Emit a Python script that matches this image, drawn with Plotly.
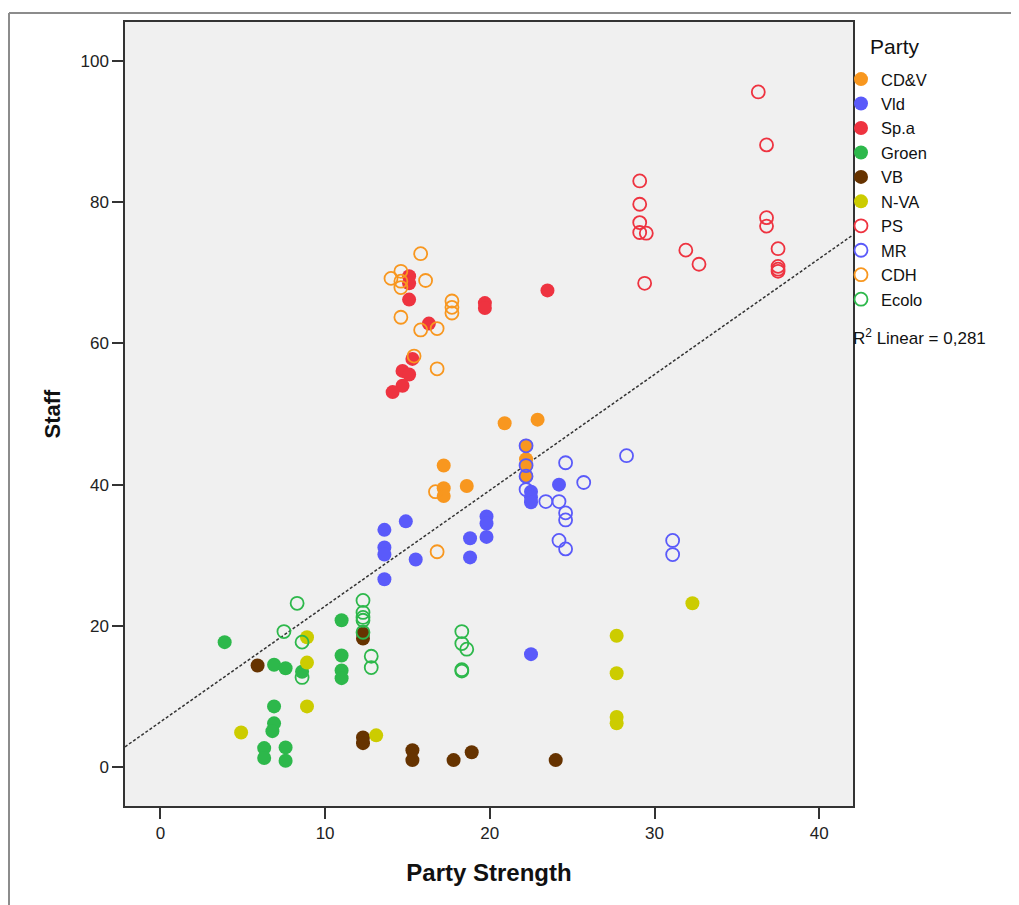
import numpy as np
import plotly.graph_objects as go

# ---------------- data ----------------
parties = ["CD&V", "Vld", "Sp.a", "Groen", "VB", "N-VA", "PS", "MR", "CDH", "Ecolo"]

cdv_x = [20.9, 22.9, 17.2, 17.2, 17.2, 18.6, 22.2, 22.2, 22.2, 22.2]
cdv_y = [48.7, 49.2, 42.7, 39.5, 38.4, 39.8, 45.5, 43.6, 42.7, 41.2]

vld_x = [13.6, 13.6, 13.6, 13.6, 14.9, 15.5, 18.8, 18.8, 19.8, 19.8, 19.8, 24.2, 22.5, 22.5, 22.5, 22.5]
vld_y = [33.6, 31.1, 30.1, 26.6, 34.8, 29.4, 32.4, 29.7, 35.5, 34.5, 32.6, 40.0, 39.0, 38.2, 37.5, 16.0]

spa_x = [23.5, 19.7, 19.7, 15.1, 15.1, 15.1, 16.3, 15.3, 14.7, 15.1, 14.7, 14.1]
spa_y = [67.5, 65.7, 65.0, 69.5, 68.5, 66.2, 62.8, 57.8, 56.1, 55.6, 54.0, 53.1]

groen_x = [3.9, 6.9, 7.6, 8.6, 6.9, 6.9, 6.8, 6.3, 6.3, 7.6, 7.6, 11.0, 11.0, 11.0, 11.0]
groen_y = [17.7, 14.5, 14.0, 13.5, 8.6, 6.2, 5.1, 2.7, 1.3, 2.8, 0.9, 20.8, 15.8, 13.7, 12.6]

vb_x = [5.9, 12.3, 12.3, 12.3, 12.3, 15.3, 15.3, 17.8, 18.9, 24.0]
vb_y = [14.4, 18.9, 18.2, 4.2, 3.4, 2.4, 1.0, 1.0, 2.1, 1.0]

nva_x = [8.9, 8.9, 8.9, 4.9, 13.1, 27.7, 27.7, 27.7, 27.7, 32.3]
nva_y = [18.4, 14.8, 8.6, 4.9, 4.5, 18.6, 13.3, 7.1, 6.2, 23.2]

ps_x = [29.1, 29.1, 29.1, 29.1, 29.5, 29.4, 31.9, 32.7, 36.8, 36.8, 37.5, 37.5, 37.5, 37.5, 36.3, 36.8]
ps_y = [83.0, 79.7, 77.1, 75.7, 75.6, 68.5, 73.2, 71.2, 77.8, 76.6, 73.4, 70.9, 70.5, 70.2, 95.6, 88.1]

mr_x = [28.3, 24.6, 25.7, 22.2, 22.2, 22.2, 22.2, 23.4, 24.2, 24.6, 24.6, 24.2, 24.6, 31.1, 31.1]
mr_y = [44.1, 43.1, 40.3, 45.5, 42.7, 41.2, 39.3, 37.6, 37.6, 36.0, 35.0, 32.1, 30.9, 32.1, 30.1]

cdh_x = [15.8, 14.0, 14.6, 14.6, 14.6, 16.1, 17.7, 17.7, 17.7, 14.6, 15.8, 16.8, 15.4, 16.8, 16.7, 16.8]
cdh_y = [72.7, 69.2, 70.2, 68.8, 67.9, 68.9, 66.0, 65.1, 64.3, 63.7, 61.9, 62.1, 58.2, 56.4, 39.0, 30.5]

ecolo_x = [8.3, 7.5, 8.6, 8.6, 12.3, 12.3, 12.3, 12.3, 12.3, 12.8, 12.8, 18.3, 18.3, 18.6, 18.3, 18.3]
ecolo_y = [23.2, 19.2, 17.7, 12.7, 23.6, 21.9, 21.2, 20.8, 19.1, 15.7, 14.1, 19.2, 17.5, 16.7, 13.8, 13.6]

# linear fit line as shown in the reference
fit_intercept = 6.4
fit_slope = 1.64
r2_label = "0,281"

x_ticks = [0, 10, 20, 30, 40]
y_ticks = [0, 20, 40, 60, 80, 100]

# ---------------- styling ----------------
series = [
    ("CD&V", cdv_x, cdv_y, "#F8971F", True),
    ("Vld", vld_x, vld_y, "#5A5AFA", True),
    ("Sp.a", spa_x, spa_y, "#EE3340", True),
    ("Groen", groen_x, groen_y, "#2DB84B", True),
    ("VB", vb_x, vb_y, "#663300", True),
    ("N-VA", nva_x, nva_y, "#CCCC00", True),
    ("PS", ps_x, ps_y, "#EE3340", False),
    ("MR", mr_x, mr_y, "#5A5AFA", False),
    ("CDH", cdh_x, cdh_y, "#F8971F", False),
    ("Ecolo", ecolo_x, ecolo_y, "#2DB84B", False),
]

x_range = [-2.15, 42.05]
y_range = [-5.5, 105.5]

fig = go.Figure()

lx = np.array(x_range)
fig.add_trace(go.Scatter(
    x=lx, y=fit_intercept + fit_slope * lx, mode="lines",
    line=dict(color="#333333", width=1.5, dash="3px,2px"),
    showlegend=False, hoverinfo="skip"))

for name, xs, ys, col, filled in series:
    if filled:
        marker = dict(size=14, color=col, line=dict(width=0))
    else:
        marker = dict(size=13, color=col, symbol="circle-open", line=dict(width=1.8))
    fig.add_trace(go.Scatter(x=xs, y=ys, mode="markers", name=name,
                             marker=marker, legendgroup=name))

# page offset of the plot div (default body margin) compensated in sizes
OFF = 8
W, H = 1019 - OFF, 905 - OFF
ml, mr_, mt, mb = 125 - OFF, 166, 20 - OFF, 99
pw, ph = W - ml - mr_, H - mt - mb


def px(page_x):
    return (page_x - OFF - ml) / pw


def py(page_y):
    return 1 - (page_y - OFF - mt) / ph


# outer gray frame (left and top edges)
fig.add_shape(type="line", xref="paper", yref="paper",
              x0=px(9), x1=px(9), y0=py(H + 20), y1=py(11),
              line=dict(color="#8c8c8c", width=2))
fig.add_shape(type="line", xref="paper", yref="paper",
              x0=px(9), x1=px(W + 20), y0=py(11), y1=py(11),
              line=dict(color="#8c8c8c", width=2))

fig.add_annotation(xref="paper", yref="paper", x=px(868), y=py(45),
                   xanchor="left", yanchor="middle", showarrow=False,
                   text="Party", font=dict(size=21, color="#111111",
                                           family="Liberation Sans, Arial, sans-serif"))
fig.add_annotation(xref="paper", yref="paper", x=px(851), y=py(336),
                   xanchor="left", yanchor="middle", showarrow=False,
                   text="R<sup>2</sup> Linear = " + r2_label,
                   font=dict(size=17, color="#111111",
                             family="Liberation Sans, Arial, sans-serif"))

fig.update_layout(
    width=W, height=H,
    margin=dict(l=ml, r=mr_, t=mt, b=mb),
    paper_bgcolor="white",
    plot_bgcolor="#F0F0F0",
    font=dict(family="Liberation Sans, Arial, sans-serif", color="#111111"),
    showlegend=True,
    legend=dict(x=px(841), y=py(60), xanchor="left", yanchor="top",
                font=dict(size=16.5, color="#111111"),
                tracegroupgap=0, bgcolor="rgba(0,0,0,0)",
                itemclick=False, itemdoubleclick=False),
)
fig.update_xaxes(range=x_range, tickvals=x_ticks, ticks="outside", ticklen=11,
                 tickwidth=1.5, tickcolor="#333333", showgrid=False, zeroline=False,
                 showline=True, mirror=True, linecolor="#333333", linewidth=1.5,
                 tickfont=dict(size=17, color="#222222"),
                 title=dict(text="<b>Party Strength</b>", font=dict(size=24, color="#111111"),
                            standoff=22))
fig.update_yaxes(range=y_range, tickvals=y_ticks, ticks="outside", ticklen=11,
                 tickwidth=1.5, tickcolor="#333333", showgrid=False, zeroline=False,
                 showline=True, mirror=True, linecolor="#333333", linewidth=1.5,
                 tickfont=dict(size=17, color="#222222"),
                 title=dict(text="<b>Staff</b>", font=dict(size=22, color="#111111"),
                            standoff=14))

fig.write_html("out.html")
